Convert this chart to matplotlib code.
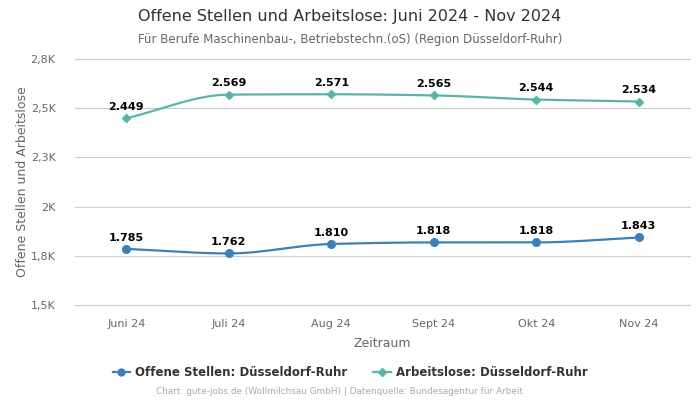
import numpy as np
import matplotlib
matplotlib.use("Agg")
import matplotlib.pyplot as plt

months = ["Juni 24", "Juli 24", "Aug 24", "Sept 24", "Okt 24", "Nov 24"]
offene = [1785, 1762, 1810, 1818, 1818, 1843]
arbeitslose = [2449, 2569, 2571, 2565, 2544, 2534]
yticks = [1500, 1750, 2000, 2250, 2500, 2750]
ytick_labels = ["1,5K", "1,8K", "2K", "2,3K", "2,5K", "2,8K"]

c_off = "#3a80ba"
c_arb = "#5ab4ac"


def monotone(x, y, n=40):
    x = np.asarray(x, float); y = np.asarray(y, float)
    h = np.diff(x); d = np.diff(y) / h
    m = np.zeros_like(y)
    m[0] = d[0]; m[-1] = d[-1]
    for i in range(1, len(y) - 1):
        if d[i - 1] * d[i] <= 0:
            m[i] = 0
        else:
            w1 = 2 * h[i] + h[i - 1]; w2 = h[i] + 2 * h[i - 1]
            m[i] = (w1 + w2) / (w1 / d[i - 1] + w2 / d[i])
    xs, ys = [], []
    for i in range(len(x) - 1):
        t = np.linspace(0, 1, n)
        h00 = 2 * t**3 - 3 * t**2 + 1; h10 = t**3 - 2 * t**2 + t
        h01 = -2 * t**3 + 3 * t**2; h11 = t**3 - t**2
        xs.append(x[i] + t * h[i])
        ys.append(h00 * y[i] + h10 * h[i] * m[i] + h01 * y[i + 1] + h11 * h[i] * m[i + 1])
    return np.concatenate(xs), np.concatenate(ys)


fig = plt.figure(figsize=(7, 4), dpi=100)
ax = fig.add_axes([75 / 700, 1 - 305 / 400, 615 / 700, 246 / 400])
x = np.arange(len(months))

for vals, col, mk, ms, lbl in [
    (offene, c_off, "o", 5.5, "Offene Stellen: Düsseldorf-Ruhr"),
    (arbeitslose, c_arb, "D", 4, "Arbeitslose: Düsseldorf-Ruhr"),
]:
    sx, sy = monotone(x, vals)
    ax.plot(sx, sy, color=col, lw=1.6, zorder=3)
    ax.plot(x, vals, linestyle="none", marker=mk, ms=ms, color=col, zorder=4)
    ax.plot([], [], color=col, marker=mk, ms=ms * 0.9, lw=1.6, label=lbl)
    for xi, v in zip(x, vals):
        ax.annotate(f"{v:,}".replace(",", "."), (xi, v), xytext=(0, 4.5),
                    textcoords="offset points", ha="center", va="bottom",
                    fontsize=8, fontweight="bold", color="black", zorder=5)

ax.set_xlim(-0.5, 5.5)
ax.set_ylim(1500, 2750)
ax.set_xticks(x)
ax.set_xticklabels(months)
ax.set_yticks(yticks)
ax.set_yticklabels(ytick_labels)
ax.grid(axis="y", color="#cccccc", lw=0.8)
for gl in ax.get_ygridlines():
    gl.set_clip_on(False)
ax.set_axisbelow(True)
for s in ax.spines.values():
    s.set_visible(False)
ax.tick_params(axis="both", length=0, colors="#666666", labelsize=8)
ax.tick_params(axis="x", pad=10)
ax.tick_params(axis="y", pad=14)
ax.set_xlabel("Zeitraum", color="#666666", fontsize=9, labelpad=6)
ax.set_ylabel("Offene Stellen und Arbeitslose", color="#666666", fontsize=9)
ax.yaxis.set_label_coords((29 - 75) / 615, 0.5)

fig.text(0.5, 1 - 17 / 400, "Offene Stellen und Arbeitslose: Juni 2024 - Nov 2024",
         ha="center", va="center", fontsize=11.5, color="#333333")
fig.text(0.5, 1 - 39 / 400, "Für Berufe Maschinenbau-, Betriebstechn.(oS) (Region Düsseldorf-Ruhr)",
         ha="center", va="center", fontsize=8.5, color="#666666")

leg = fig.legend(loc="center", bbox_to_anchor=(0.5, 1 - 373 / 400), ncol=2, frameon=False,
                 prop={"weight": "bold", "size": 8.5}, handlelength=1.5, handletextpad=0.4,
                 columnspacing=2.2)
for t in leg.get_texts():
    t.set_color("#333333")

fig.text(340 / 700, 1 - 392 / 400, "Chart: gute-jobs.de (Wollmilchsau GmbH) | Datenquelle: Bundesagentur für Arbeit",
         ha="center", va="center", fontsize=6.4, color="#aaaaaa")

fig.savefig("out.png", dpi=100)
